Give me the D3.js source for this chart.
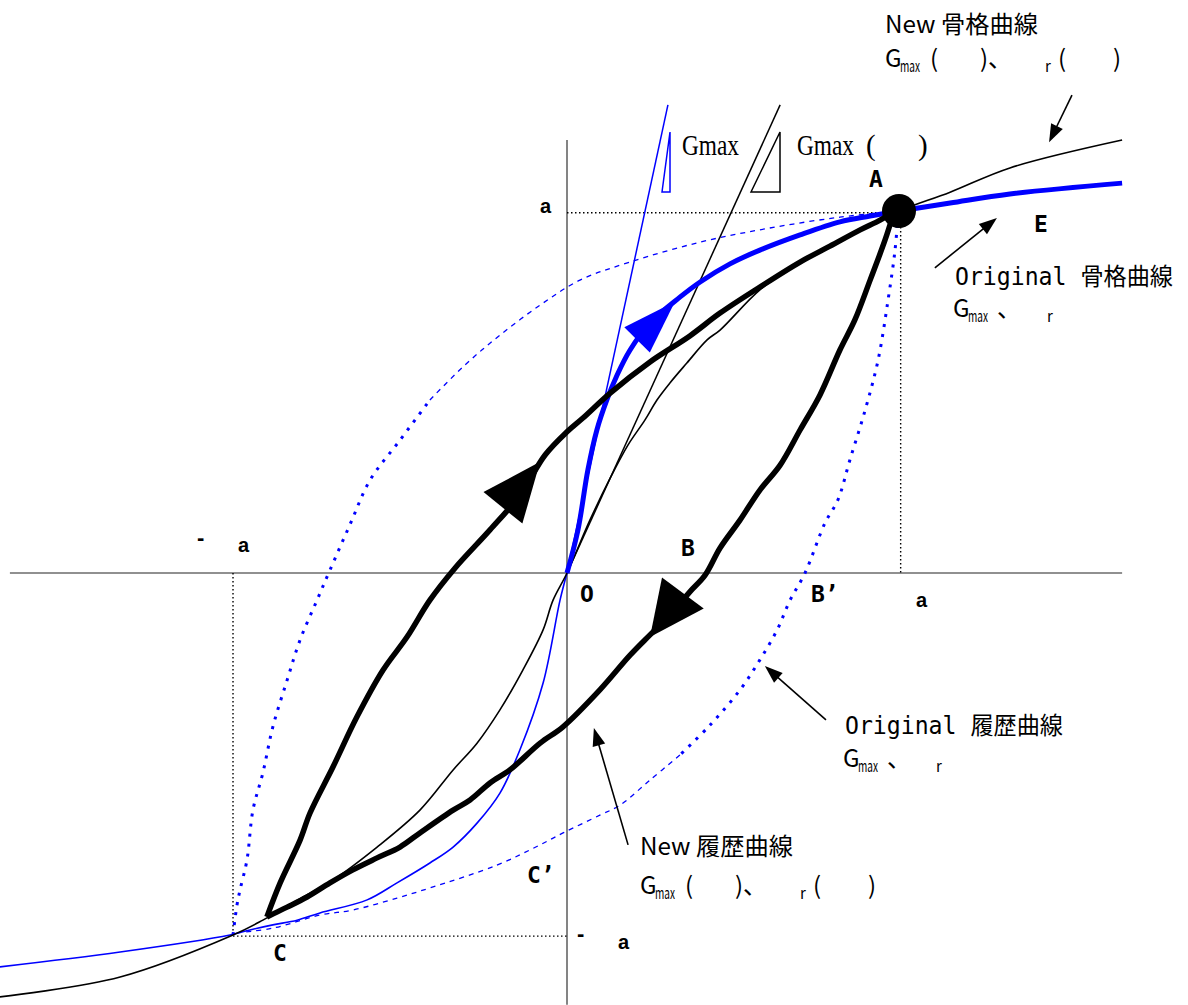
<!DOCTYPE html>
<html><head><meta charset="utf-8">
<script src="https://cdn.jsdelivr.net/npm/d3@7"></script>
<style>body{margin:0;background:#fff}svg{display:block}</style>
</head><body>
<script>
// ---- data (normalized: x = γ/γa, y = τ/τa) ----
const newSkeletonX = [-1.708,-1.346,-1.006,-0.916,-0.795,-0.705,-0.572,-0.443,-0.343,-0.271,-0.202,-0.133,-0.072,-0.042,0,0.069,0.130,0.184,0.235,0.271,0.310,0.361,0.422,0.461,0.581,0.702,0.822,0.913,1.0,1.154,1.334,1.672];
const newSkeletonY = [-1.171,-1.116,-1.0,-0.959,-0.895,-0.848,-0.757,-0.655,-0.544,-0.470,-0.378,-0.268,-0.157,-0.075,0,0.146,0.262,0.354,0.423,0.478,0.525,0.580,0.644,0.671,0.782,0.859,0.920,0.961,1.0,1.052,1.119,1.196];

const origSkeletonNegX = [-1.708,-1.346,-1.015,-0.955,-0.886,-0.813,-0.744,-0.602,-0.512,-0.413,-0.343,-0.271,-0.202,-0.142,-0.072,-0.021,0];
const origSkeletonNegY = [-1.088,-1.047,-1.0,-0.986,-0.972,-0.959,-0.939,-0.903,-0.856,-0.801,-0.757,-0.691,-0.608,-0.489,-0.304,-0.075,0];

const origSkeletonPosX = [0,0.033,0.063,0.090,0.120,0.151,0.190,0.250,0.340,0.401,0.491,0.581,0.702,0.822,0.913,1.0,1.154,1.334,1.672];
const origSkeletonPosY = [0,0.119,0.285,0.395,0.478,0.547,0.616,0.691,0.762,0.804,0.854,0.892,0.934,0.970,0.986,1.0,1.022,1.047,1.077];

const newHystUpX = [-0.904,-0.864,-0.804,-0.774,-0.705,-0.633,-0.554,-0.482,-0.413,-0.337,-0.232,-0.142,-0.066,0,0.048,0.130,0.250,0.370,0.461,0.581,0.702,0.792,0.883,0.943,0.982];
const newHystUpY = [-0.950,-0.856,-0.738,-0.663,-0.536,-0.398,-0.268,-0.177,-0.075,0.014,0.119,0.215,0.326,0.390,0.428,0.497,0.583,0.655,0.718,0.790,0.859,0.903,0.948,0.975,0.997];

const newHystDownX = [0.982,0.958,0.913,0.867,0.822,0.762,0.702,0.642,0.581,0.521,0.461,0.416,0.370,0.310,0.250,0.190,0.099,-0.012,-0.081,-0.172,-0.232,-0.292,-0.343,-0.443,-0.503,-0.572,-0.645,-0.714,-0.783,-0.843,-0.904];
const newHystDownY = [0.989,0.920,0.809,0.699,0.616,0.492,0.395,0.298,0.229,0.146,0.069,-0.006,-0.052,-0.116,-0.171,-0.227,-0.323,-0.425,-0.470,-0.544,-0.580,-0.627,-0.655,-0.718,-0.757,-0.787,-0.820,-0.856,-0.895,-0.923,-0.950];

const origHystUpX = [-1.006,-0.994,-0.985,-0.964,-0.946,-0.916,-0.886,-0.843,-0.804,-0.753,-0.714,-0.654,-0.593,-0.503,-0.413,-0.307,-0.202,-0.081,0.039,0.190,0.401,0.611,0.822,1.0];
const origHystUpY = [-1.0,-0.917,-0.876,-0.793,-0.655,-0.552,-0.425,-0.296,-0.185,-0.075,0.008,0.133,0.257,0.367,0.478,0.575,0.657,0.740,0.809,0.859,0.914,0.953,0.983,1.0];

const origHystDownX = [0.997,0.988,0.967,0.937,0.898,0.852,0.816,0.777,0.717,0.672,0.633,0.581,0.521,0.431,0.340,0.250,0.160,0.099,-0.012,-0.081,-0.211,-0.413,-0.512,-0.645,-0.744,-0.886,-0.994];
const origHystDownY = [0.989,0.892,0.754,0.588,0.450,0.312,0.202,0.138,0,-0.075,-0.157,-0.240,-0.323,-0.420,-0.503,-0.572,-0.641,-0.669,-0.718,-0.751,-0.807,-0.870,-0.898,-0.931,-0.945,-0.981,-0.994];

const tangentNew = [[0,0],[0.642,1.293]];
const tangentOrig = [[0,0],[0.304,1.293]];

// ---- layout ----
const W = 1188, H = 1005;
const x = d3.scaleLinear().domain([0,1]).range([567,899]);
const y = d3.scaleLinear().domain([0,1]).range([573,211]);
const zip = (a,b) => a.map((v,i)=>[v,b[i]]);

const svg = d3.select("body").append("svg").attr("width",W).attr("height",H);
const line = d3.line().x(d=>x(d[0])).y(d=>y(d[1])).curve(d3.curveCatmullRom.alpha(0.5));
const lineL = d3.line().x(d=>x(d[0])).y(d=>y(d[1]));

// axes
svg.append("line").attr("x1",x(-1.678)).attr("x2",x(1.672)).attr("y1",y(0)).attr("y2",y(0))
  .attr("stroke","#222").attr("stroke-width",1.2);
svg.append("line").attr("x1",x(0)).attr("x2",x(0)).attr("y1",y(1.196)).attr("y2",y(-1.193))
  .attr("stroke","#777").attr("stroke-width",1.8);

// dotted guides
const guide = (x1,y1,x2,y2)=>svg.append("line").attr("x1",x(x1)).attr("y1",y(y1)).attr("x2",x(x2)).attr("y2",y(y2))
  .attr("stroke","#000").attr("stroke-width",1.4).attr("stroke-dasharray","1.5,2.5");
guide(0,0.995,1,0.995); guide(1.005,1,1.005,0);
guide(-1.006,0,-1.006,-1); guide(-1.006,-1.003,0,-1.003);

// original hysteresis (blue dotted/dashed)
const up = zip(origHystUpX, origHystUpY), dn = zip(origHystDownX, origHystDownY);
svg.append("path").attr("d",line(up.slice(0,15))).attr("fill","none").attr("stroke","#0000ff").attr("stroke-width",3).attr("stroke-dasharray","3,7");
svg.append("path").attr("d",line(up.slice(14))).attr("fill","none").attr("stroke","#0000ff").attr("stroke-width",1.3).attr("stroke-dasharray","5,5");
svg.append("path").attr("d",line(dn.slice(0,15))).attr("fill","none").attr("stroke","#0000ff").attr("stroke-width",3).attr("stroke-dasharray","3,7");
svg.append("path").attr("d",line(dn.slice(14))).attr("fill","none").attr("stroke","#0000ff").attr("stroke-width",1.3).attr("stroke-dasharray","5,5");

// tangents
svg.append("path").attr("d",lineL(tangentOrig)).attr("fill","none").attr("stroke","#0000ff").attr("stroke-width",1.5);
svg.append("path").attr("d",lineL(tangentNew)).attr("fill","none").attr("stroke","#000").attr("stroke-width",1.5);

// skeletons
svg.append("path").attr("d",line(zip(origSkeletonNegX,origSkeletonNegY))).attr("fill","none").attr("stroke","#0000ff").attr("stroke-width",1.6);
svg.append("path").attr("d",line(zip(newSkeletonX,newSkeletonY))).attr("fill","none").attr("stroke","#000").attr("stroke-width",1.6);
svg.append("path").attr("d",line(zip(origSkeletonPosX,origSkeletonPosY))).attr("fill","none").attr("stroke","#0000ff").attr("stroke-width",5);

// new hysteresis
svg.append("path").attr("d",line(zip(newHystUpX,newHystUpY))).attr("fill","none").attr("stroke","#000").attr("stroke-width",5.5).attr("stroke-linejoin","round");
svg.append("path").attr("d",line(zip(newHystDownX,newHystDownY))).attr("fill","none").attr("stroke","#000").attr("stroke-width",5.5).attr("stroke-linejoin","round");

// point A
svg.append("circle").attr("cx",x(1)).attr("cy",y(1)).attr("r",17).attr("fill","#000");

// arrowheads
function head(tip, base, width, color){
  const tx=x(tip[0]), ty=y(tip[1]), bx=x(base[0]), by=y(base[1]);
  const dx=tx-bx, dy=ty-by, L=Math.hypot(dx,dy), nx=-dy/L, ny=dx/L;
  svg.append("path").attr("d",`M${tx},${ty}L${bx+nx*width/2},${by+ny*width/2}L${bx-nx*width/2},${by-ny*width/2}Z`).attr("fill",color);
}
head([-0.081,0.307],[-0.193,0.180],50,"#000");
head([0.250,-0.177],[0.349,-0.055],52,"#000");
head([0.325,0.749],[0.211,0.644],36,"#0000ff");

// annotation arrows
const notes = [[[1.521,1.320],[1.452,1.190]],[[1.108,0.843],[1.295,0.981]],[[0.780,-0.406],[0.596,-0.257]],[[0.184,-0.751],[0.081,-0.428]]];
notes.forEach(([f,t])=>{
  const fx=x(f[0]),fy=y(f[1]),tx=x(t[0]),ty=y(t[1]);
  const dx=tx-fx,dy=ty-fy,L=Math.hypot(dx,dy),ux=dx/L,uy=dy/L;
  svg.append("line").attr("x1",fx).attr("y1",fy).attr("x2",tx-ux*10).attr("y2",ty-uy*10).attr("stroke","#000").attr("stroke-width",1.6);
  const hl=18, hw=13, bx=tx-ux*hl, by=ty-uy*hl;
  svg.append("path").attr("d",`M${tx},${ty}L${bx-uy*hw/2},${by+ux*hw/2}L${bx+uy*hw/2},${by-ux*hw/2}Z`).attr("fill","#000");
});

// legend triangles
svg.append("path").attr("d","M662,192L670,132L670,192Z").attr("fill","none").attr("stroke","#0000ff").attr("stroke-width",1.5);
svg.append("path").attr("d","M751,192L780,132L780,192Z").attr("fill","none").attr("stroke","#000").attr("stroke-width",1.5);

// ---- texts ----
const CJK = "'Liberation Sans Narrow','Noto Sans CJK JP',sans-serif";
const MONO = "'DejaVu Sans Mono','Noto Sans CJK JP',monospace";
const SERIF = "'Liberation Serif',serif";
function t(str, px, py, size, family, opts={}){
  const e = svg.append("text").attr("x",px).attr("y",py).attr("font-size",size).attr("font-family",family).attr("fill",opts.fill||"#000").text(str);
  if(opts.weight) e.attr("font-weight",opts.weight);
  if(opts.len) e.attr("textLength",opts.len).attr("lengthAdjust","spacingAndGlyphs");
  return e;
}
// Gmax sub-line: one text element with positioned tspans
function gline(px, py, parts){
  const e = svg.append("text").attr("font-family",CJK).attr("fill","#000");
  e.append("tspan").attr("x",px).attr("y",py).attr("font-size",24).text("G");
  e.append("tspan").attr("x",px+15).attr("y",py+5).attr("font-size",15).attr("textLength",20).attr("lengthAdjust","spacingAndGlyphs").text("max");
  parts.forEach(p=>{
    const small = p[2]===1;
    e.append("tspan").attr("x",p[1]).attr("y",small?py+5:py).attr("font-size",small?15:24).text(p[0]);
  });
}

t("New 骨格曲線", 885, 33, 24, CJK, {len:153});
gline(885, 67, [["(",930],[")、",980],["r",1045,1],["(",1058],[")",1113]]);

t("Gmax", 682, 155, 29, SERIF, {len:57});
{
  const e = svg.append("text").attr("font-family",SERIF).attr("font-size",29).attr("fill","#000");
  e.append("tspan").attr("x",797).attr("y",155).attr("textLength",57).attr("lengthAdjust","spacingAndGlyphs").text("Gmax");
  e.append("tspan").attr("x",866).attr("y",155).text("(");
  e.append("tspan").attr("x",918).attr("y",155).text(")");
}

t("Original 骨格曲線", 955, 285, 24, MONO, {len:218});
gline(953, 317, [["、",997],["r",1047,1]]);

t("Original 履歴曲線", 845, 734, 24, MONO, {len:218});
gline(843, 767, [["、",887],["r",936,1]]);

t("New 履歴曲線", 640, 855, 24, CJK, {len:153});
gline(640, 894, [["(",685],[")、",735],["r",800,1],["(",813],[")",868]]);

// point labels
const LB = "'DejaVu Sans Mono',monospace";
const pl = (s,px,py)=>t(s,px,py,23,LB,{weight:"bold"});
pl("A", 869, 187);
pl("E", 1034, 232);
pl("B", 681, 556);
pl("O", 580, 602);
pl("B’", 811, 602);
pl("C", 273, 961);
pl("C’", 527, 883);

// a labels
const AF = "'Liberation Sans',sans-serif";
t("a", 540, 213, 20, AF, {weight:"bold"});
t("-", 197, 545, 22, AF, {weight:"bold"});
t("a", 238, 552, 20, AF, {weight:"bold"});
t("a", 916, 607, 20, AF, {weight:"bold"});
t("-", 577, 941, 22, AF, {weight:"bold"});
t("a", 618, 949, 20, AF, {weight:"bold"});
</script>
</body></html>
